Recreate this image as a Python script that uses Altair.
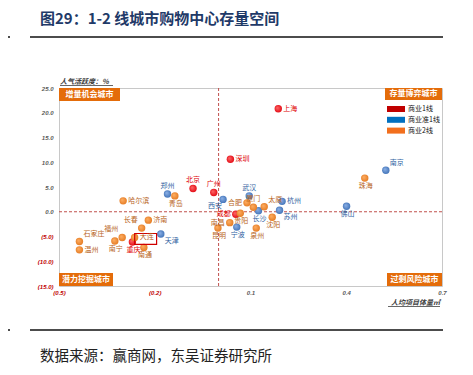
import altair as alt
import pandas as pd

# ---------------- data ----------------
cities = ["上海", "深圳", "北京", "广州", "成都", "重庆",
          "南京", "郑州", "西安", "武汉", "杭州", "长沙", "苏州", "宁波", "天津", "佛山",
          "珠海", "青岛", "哈尔滨", "济南", "长春", "福州", "南宁", "大连", "南通",
          "石家庄", "温州", "南昌", "昆明", "贵阳", "合肥", "厦门", "太原", "沈阳", "泉州"]
tiers = ["商业1线"] * 6 + ["商业准1线"] * 10 + ["商业2线"] * 19
x_vals = [0.187, 0.037, -0.080, -0.015, 0.054, -0.270,
          0.524, -0.160, 0.014, 0.096, 0.199, 0.125, 0.191, 0.057, -0.181, 0.401,
          0.458, -0.137, -0.299, -0.220, -0.241, -0.302, -0.325, -0.263, -0.234,
          -0.436, -0.436, 0.035, -0.002, 0.068, 0.089, 0.109, 0.143, 0.168, 0.118]
y_vals = [20.8, 10.6, 4.7, 3.9, -0.5, -6.1,
          8.4, 3.6, 2.5, 3.2, 2.1, 0.2, 0.3, -3.1, -4.5, 1.1,
          6.8, 3.2, 2.2, -1.7, -3.3, -5.2, -5.9, -5.2, -7.2,
          -6.0, -7.7, -2.2, -3.3, -0.3, 1.8, 0.9, 1.0, -1.1, -3.3]
label_side = ["r", "r", "a", "a", "l", "b",
              "ar", "a", "bl", "a", "r", "b", "br", "b", "br", "b",
              "b", "b", "r", "r", "al", "al", "b", "r", "b",
              "ar", "r", "l", "b", "b", "l", "a", "ar", "b", "b"]

tier_names = ["商业1线", "商业准1线", "商业2线"]
dot_light = ["#ff6b6b", "#8fb3e8", "#ffb066"]
dot_dark = ["#e0000b", "#3a6db3", "#e2761c"]
text_colors = ["#e00000", "#2f5f9f", "#b8651b"]
legend_colors = ["#c00000", "#0070c0", "#f26f1d"]
quadrant_names = ["增量机会城市", "存量博弈城市", "潜力挖掘城市", "过剩风险城市"]
x_ticks = [-0.5, -0.2, 0.1, 0.4, 0.7]
y_ticks = [25, 20, 15, 10, 5, 0, -5, -10, -15]

df = pd.DataFrame({"city": cities, "tier": tiers, "x": x_vals, "y": y_vals, "side": label_side})
one = pd.DataFrame({"k": [0]})

FONT = "Noto Sans CJK SC"
W, H = 383, 198
ORANGE = "#e46c0a"

xscale = alt.Scale(domain=[-0.5, 0.7], nice=False, zero=False)
yscale = alt.Scale(domain=[-15, 25], nice=False, zero=False)

neg_col = "datum.value < 0 ? '#c00000' : '#595959'"
lab_expr = "datum.value < 0 ? '(' + format(-datum.value, '.1f') + ')' : format(datum.value, '.1f')"
xaxis = alt.Axis(values=x_ticks, title=None, grid=False, ticks=False, domain=False,
                 labelExpr=lab_expr, labelOverlap=False, labelFlush=False,
                 labelFontSize=6, labelFontStyle="italic", labelFontWeight="bold",
                 labelColor=alt.ExprRef(neg_col), labelPadding=3, labelFont="Liberation Sans")
yaxis = alt.Axis(values=y_ticks, title=None, grid=False, ticks=False, domain=False,
                 labelExpr=lab_expr, labelOverlap=False, labelFlush=False,
                 labelFontSize=6, labelFontStyle="italic", labelFontWeight="bold",
                 labelColor=alt.ExprRef(neg_col), labelPadding=6, labelFont="Liberation Sans")


def X(field):
    return alt.X(field, type="quantitative", scale=xscale, axis=xaxis)


def Y(field):
    return alt.Y(field, type="quantitative", scale=yscale, axis=yaxis)


base = alt.Chart(df)

# dashed cross lines
vline = alt.Chart(one).mark_rule(color="#c0504d", strokeDash=[3, 2], strokeWidth=1).encode(
    x=X("v")).transform_calculate(v="0")
hline = alt.Chart(one).mark_rule(color="#c0504d", strokeDash=[3, 2], strokeWidth=1).encode(
    y=Y("v")).transform_calculate(v="0")

layers = [vline, hline]

# dots, one layer per tier with a shaded ball fill
for name, lt, dk in zip(tier_names, dot_light, dot_dark):
    grad = alt.RadialGradient(gradient="radial", x1=0.35, y1=0.35, r1=0.0, x2=0.5, y2=0.5, r2=0.6,
                              stops=[alt.GradientStop(offset=0, color=lt),
                                     alt.GradientStop(offset=1, color=dk)])
    layers.append(
        base.transform_filter(alt.datum.tier == name)
        .mark_circle(size=55, opacity=1, fill=grad)
        .encode(x=X("x"), y=Y("y"))
    )

# box around 大连 label
dl = df[df.city == "大连"].iloc[0]
px_x = 1.2 / W
px_y = 40.0 / H
box = pd.DataFrame({"x": [dl.x + 11 * px_x], "y": [dl.y - 1.5 * px_y]})
layers.append(alt.Chart(box).mark_point(shape="M-1,-0.5L1,-0.5L1,0.5L-1,0.5Z", size=480, filled=False,
                                        color="#d00000", strokeWidth=1.2, opacity=1)
              .encode(x=X("x"), y=Y("y")))

# labels
side_style = {
    "r": dict(dx=5, dy=0, align="left"),
    "l": dict(dx=-5, dy=0, align="right"),
    "a": dict(dx=0, dy=-8, align="center"),
    "b": dict(dx=1, dy=8, align="center"),
    "ar": dict(dx=4, dy=-7, align="left"),
    "al": dict(dx=-4, dy=-8, align="right"),
    "br": dict(dx=4, dy=7, align="left"),
    "bl": dict(dx=-1, dy=7, align="right"),
}
tcol = alt.Color("tier:N", scale=alt.Scale(domain=tier_names, range=text_colors), legend=None)
for code, st in side_style.items():
    layers.append(
        base.transform_filter(alt.datum.side == code)
        .mark_text(font=FONT, fontSize=7, baseline="middle", **st)
        .encode(x=X("x"), y=Y("y"), text="city:N", color=tcol)
    )

# quadrant tags (orange boxes)
quad_boxes = [(0, 61, 0, 13), (326, 383, 0, 12), (0, 54, 185, 198), (328, 383, 185, 198)]
for name, (x1, x2, y1, y2) in zip(quadrant_names, quad_boxes):
    layers.append(alt.Chart(one).mark_rect(color=ORANGE).encode(
        x=alt.value(x1), x2=alt.value(x2), y=alt.value(y1), y2=alt.value(y2)))
    layers.append(alt.Chart(one).mark_text(text=name, color="white", font=FONT, fontSize=8,
                                           fontWeight="bold", align="center", baseline="middle").encode(
        x=alt.value((x1 + x2) / 2), y=alt.value((y1 + y2) / 2)))

# manual legend
for i, (name, colr) in enumerate(zip(tier_names, legend_colors)):
    yc = 21 + i * 10.8
    layers.append(alt.Chart(one).mark_rect(color=colr).encode(
        x=alt.value(328), x2=alt.value(346), y=alt.value(yc - 3), y2=alt.value(yc + 3)))
    layers.append(alt.Chart(one).mark_text(text=name, color="#111111", font=FONT, fontSize=7,
                                           align="left", baseline="middle").encode(
        x=alt.value(349), y=alt.value(yc)))

# axis titles with underline
layers.append(alt.Chart(one).mark_text(text="人气活跃度：%", font=FONT, fontSize=7, fontStyle="italic",
                                       fontWeight="bold", color="#404040", align="left",
                                       baseline="bottom").encode(x=alt.value(1), y=alt.value(-3)))
layers.append(alt.Chart(one).mark_rule(color="#404040", strokeWidth=0.8).encode(
    x=alt.value(1), x2=alt.value(54), y=alt.value(-2.5)))
layers.append(alt.Chart(one).mark_text(text="人均项目体量㎡", font=FONT, fontSize=7, fontStyle="italic",
                                       fontWeight="bold", color="#404040", align="right",
                                       baseline="bottom").encode(x=alt.value(381), y=alt.value(218)))
layers.append(alt.Chart(one).mark_rule(color="#404040", strokeWidth=0.8).encode(
    x=alt.value(329), x2=alt.value(381), y=alt.value(218.5)))

# page title, source and separator lines
layers.append(alt.Chart(one).mark_text(text="图29：1-2 线城市购物中心存量空间", font=FONT, fontSize=15,
                                       fontWeight="bold", color="#1f3a68", align="left",
                                       baseline="middle").encode(x=alt.value(-19), y=alt.value(-69)))
layers.append(alt.Chart(one).mark_text(text="数据来源：赢商网，东吴证券研究所", font=FONT, fontSize=14.5,
                                       color="#222222", align="left",
                                       baseline="middle").encode(x=alt.value(-19), y=alt.value(269)))
for yy in (-51, 242):
    layers.append(alt.Chart(one).mark_rule(color="#111111", strokeWidth=1.6).encode(
        x=alt.value(-29), x2=alt.value(384), y=alt.value(yy)))
    layers.append(alt.Chart(one).mark_rule(color="#111111", strokeWidth=1.6).encode(
        x=alt.value(-59), x2=alt.value(-49), y=alt.value(yy)))

chart = alt.layer(*layers).resolve_scale(color="independent").properties(
    width=W, height=H,
    padding={"left": 51, "top": 80, "right": 23, "bottom": 81},
    autosize=alt.AutoSizeParams(type="none"),
    background="white",
).configure_view(stroke="#c8c8c8", strokeWidth=1)

chart.save("out.html", embed_options={"renderer": "svg", "actions": False})
